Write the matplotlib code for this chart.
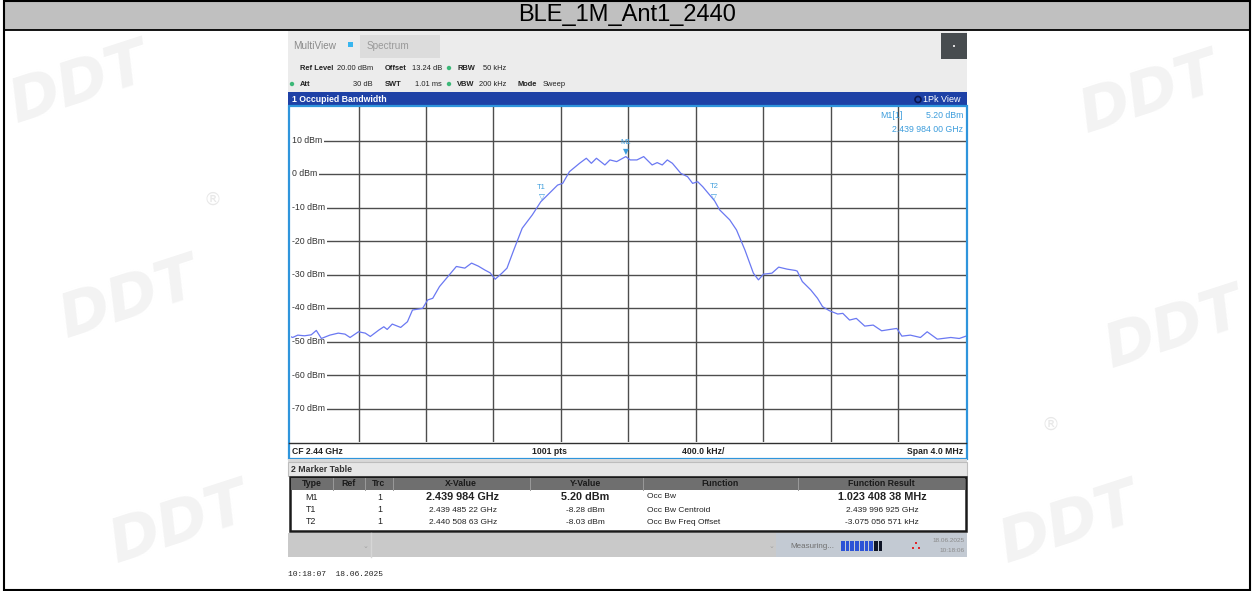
import numpy as np
import matplotlib
matplotlib.use('Agg')
import matplotlib.pyplot as plt
from matplotlib.patches import Rectangle, Circle
from matplotlib import font_manager

# trace: offset from CF (MHz) and level (dBm)
freq_offset_mhz = [-2.00, -1.99, -1.96, -1.92, -1.88, -1.85, -1.82, -1.77, -1.72, -1.68,
                   -1.65, -1.60, -1.56, -1.53, -1.48, -1.45, -1.43, -1.40, -1.35, -1.31,
                   -1.28, -1.22, -1.19, -1.16, -1.12, -1.07, -1.02, -0.97, -0.93, -0.89,
                   -0.85, -0.82, -0.79, -0.75, -0.72, -0.68, -0.63, -0.57, -0.52, -0.48,
                   -0.42, -0.39, -0.35, -0.29, -0.25, -0.22, -0.19, -0.14, -0.11, -0.07,
                   -0.016, 0.01, 0.05, 0.09, 0.14, 0.17, 0.20, 0.23, 0.26, 0.31,
                   0.35, 0.38, 0.41, 0.44, 0.51, 0.54, 0.60, 0.64, 0.69, 0.74,
                   0.77, 0.80, 0.85, 0.89, 0.94, 0.99, 1.00, 1.03, 1.08, 1.12,
                   1.15, 1.19, 1.24, 1.27, 1.31, 1.35, 1.40, 1.45, 1.50, 1.55,
                   1.59, 1.62, 1.67, 1.73, 1.77, 1.83, 1.91, 1.96, 2.00]
level_dbm = [-48.6, -48.8, -48.1, -48.3, -48.0, -46.7, -49.1, -48.1, -47.5, -47.8,
             -48.8, -47.1, -47.5, -48.5, -46.6, -45.6, -46.4, -44.8, -45.8, -44.1,
             -40.6, -40.1, -37.6, -37.1, -33.6, -30.6, -27.6, -28.1, -26.6, -27.5,
             -28.7, -29.5, -31.4, -29.6, -28.1, -22.7, -16.2, -12.2, -8.3, -6.3,
             -3.3, -2.8, 0.7, 3.2, 4.7, 3.2, 4.7, 2.7, 4.2, 3.7,
             5.2, 4.2, 4.2, 5.2, 2.7, 3.4, 2.7, 4.2, 3.2, 0.2,
             -0.8, -2.8, -2.3, -3.8, -8.0, -10.7, -13.7, -16.7, -22.7, -29.6,
             -31.6, -29.9, -29.6, -27.8, -28.4, -28.8, -29.0, -32.1, -34.6, -37.1,
             -39.6, -40.8, -41.8, -41.6, -43.6, -43.1, -45.4, -45.1, -46.8, -46.4,
             -46.1, -48.4, -48.1, -48.8, -47.1, -49.3, -48.8, -49.1, -48.4]

center_ghz = 2.44
span_mhz = 4.0
ref_level = 20
level_ticks = [10, 0, -10, -20, -30, -40, -50, -60, -70]

marker_names = ['M1', 'T1', 'T2']
marker_freq_ghz = [2.439984, 2.43948522, 2.44050863]
marker_level = [5.20, -8.28, -8.03]
marker_x_text = ['2.439 984 GHz', '2.439 485 22 GHz', '2.440 508 63 GHz']
marker_y_text = ['5.20 dBm', '-8.28 dBm', '-8.03 dBm']
function_names = ['Occ Bw', 'Occ Bw Centroid', 'Occ Bw Freq Offset']
function_results = ['1.023 408 38 MHz', '2.439 996 925 GHz', '-3.075 056 571 kHz']

_names = {f.name for f in font_manager.fontManager.ttflist}
UI = 'Liberation Sans Narrow' if 'Liberation Sans Narrow' in _names else 'Liberation Sans'

W, H = 1253, 591
fig = plt.figure(figsize=(W / 100, H / 100), dpi=100)
bg = fig.add_axes([0, 0, 1, 1])
bg.set_xlim(0, W)
bg.set_ylim(H, 0)
bg.axis('off')


def box(x0, y0, x1, y1, fc, ec='none', lw=0, z=1):
    bg.add_patch(Rectangle((x0, y0), x1 - x0, y1 - y0, fc=fc, ec=ec, lw=lw, zorder=z))


def txt(x, y, s, size=6, color='#222222', weight='normal', ha='left', family=UI, z=6):
    bg.text(x, y, s, fontsize=size, color=color, fontweight=weight, ha=ha, va='center',
            family=family, zorder=z)


# faint watermarks beside the screenshot
for (x, y) in [(80, 85), (130, 300), (180, 525), (1150, 95), (1175, 330), (1070, 525)]:
    bg.text(x, y, 'DDT', fontsize=44, color='#f3f3f3', fontweight='bold', style='italic',
            ha='center', va='center', rotation=18, zorder=0, family='DejaVu Sans')
for (x, y) in [(213, 200), (1050, 425)]:
    bg.text(x, y, '\u00ae', fontsize=13, color='#e8e8e8', ha='center', va='center', zorder=0)

# title bar and frame
box(4, 0, 1250, 30, '#c0c0c0', z=2)
bg.text(627, 15, 'BLE_1M_Ant1_2440', fontsize=17, ha='center', va='center',
        family='Liberation Sans', color='black', zorder=6)
bg.plot([4, 1250], [30, 30], color='black', lw=1.3, zorder=9)
box(4, 0.6, 1250, 589.6, 'none', ec='black', lw=1.5, z=9)

# screenshot background
box(288, 31, 967, 589, 'white', z=1.5)

# top strip
box(288, 31, 967, 92, '#ececec', z=2)
txt(293, 46, 'MultiView', size=7.2, color='#8a8a8a')
box(348, 42, 353, 47, '#39b6ef', z=3)
box(360, 35, 440, 58, '#dcdcdc', z=3)
txt(367, 46, 'Spectrum', size=7.2, color='#9a9a9a')
box(941, 33, 967, 59, '#474c4f', z=3)
box(953, 45, 955, 47, '#dddddd', z=4)

row1 = [(300, 'Ref Level', 'bold'), (337, '20.00 dBm', 'normal'), (385, 'Offset', 'bold'),
        (412, '13.24 dB', 'normal'), (457, 'RBW', 'bold'), (483, '50 kHz', 'normal')]
row2 = [(300, 'Att', 'bold'), (353, '30 dB', 'normal'), (385, 'SWT', 'bold'),
        (415, '1.01 ms', 'normal'), (457, 'VBW', 'bold'), (479, '200 kHz', 'normal'),
        (518, 'Mode', 'bold'), (543, 'Sweep', 'normal')]
for x, s, w in row1:
    txt(x, 68, s, size=5.4, weight=w)
for x, s, w in row2:
    txt(x, 84, s, size=5.4, weight=w)
for (x, y) in [(449, 68), (292, 84), (449, 84)]:
    bg.add_patch(Circle((x, y), 2.2, fc='#3cb878', ec='none', zorder=4))

# window 1 : occupied bandwidth
box(288, 92, 967, 106, '#1e41a6', z=2)
txt(292, 99.5, '1 Occupied Bandwidth', size=6.3, color='white', weight='bold')
bg.add_patch(Circle((918, 99.5), 3.0, fc='none', ec='#0a1650', lw=1.2, zorder=4))
txt(923, 99.5, '1Pk View', size=6.5, color='white')
box(289, 106, 966.5, 459, 'white', ec='#2f95dc', lw=1.6, z=2)
bg.plot([289, 966], [443, 443], color='#303030', lw=1.0, zorder=3)
txt(292, 451.5, 'CF 2.44 GHz', size=6.2, weight='bold')
txt(532, 451.5, '1001 pts', size=6.2, weight='bold')
txt(682, 451.5, '400.0 kHz/', size=6.2, weight='bold')
txt(963, 451.5, 'Span 4.0 MHz', size=6.2, weight='bold', ha='right')
box(288, 459, 967, 462, '#d8d8d8', z=2)

ax = fig.add_axes([291 / W, 1 - 442 / H, 675 / W, 335 / H])
ax.set_facecolor('none')
ax.set_xlim(-span_mhz / 2, span_mhz / 2)
ax.set_ylim(ref_level - 100, ref_level)
for s in ax.spines.values():
    s.set_visible(False)
ax.set_xticks([])
ax.set_yticks([])
for xv in np.arange(-1.6, 1.61, 0.4):
    ax.axvline(xv, color='#4d4d4d', lw=1.0, zorder=1)
for yv in range(ref_level - 10, ref_level - 100, -10):
    ax.axhline(yv, color='#4d4d4d', lw=1.0, zorder=1)
for lv in level_ticks:
    ax.text(-1.992, lv, f'{lv} dBm', fontsize=6.3, family=UI, color='#333333', ha='left',
            va='center', zorder=2, bbox=dict(fc='white', ec='none', pad=1.0))
ax.plot(freq_offset_mhz, level_dbm, color='#6a78f2', lw=0.9, zorder=3)

mk_col = '#3d9ddc'
for name, f, lv in zip(marker_names, marker_freq_ghz, marker_level):
    xm = (f - center_ghz) * 1000
    sym = '\u25bc' if name == 'M1' else '\u25bd'
    ax.annotate(sym, (xm, lv), xytext=(0, 0.5), textcoords='offset points', ha='center',
                va='bottom', fontsize=5.5, color=mk_col, family='DejaVu Sans', zorder=5)
    ax.annotate(name, (xm, lv), xytext=(0, 7.5), textcoords='offset points', ha='center',
                va='bottom', fontsize=5.5, color=mk_col, family=UI, zorder=5)

pix = bg.transData
ax.text(880, 116, 'M1[1]', fontsize=6.3, color=mk_col, family=UI, va='center', transform=pix)
ax.text(963, 116, marker_y_text[0], fontsize=6.3, color=mk_col, family=UI, va='center',
        ha='right', transform=pix)
ax.text(963, 130, '2.439 984 00 GHz', fontsize=6.3, color=mk_col, family=UI, va='center',
        ha='right', transform=pix)

# window 2 : marker table
box(288, 462, 967, 476, '#e6e6e6', ec='#bdbdbd', lw=0.8, z=2)
txt(291, 470, '2 Marker Table', size=6.3, weight='bold', color='#333333')
box(289.5, 476.5, 966, 531, 'white', ec='#1a1a1a', lw=1.8, z=2)
box(290.5, 477.5, 965, 490, '#6f6f6f', z=3)
for xs in [333, 365, 393, 530, 643, 798]:
    bg.plot([xs, xs], [478, 490], color='#9a9a9a', lw=0.7, zorder=4)
headers = [(312, 'Type'), (349, 'Ref'), (379, 'Trc'), (461, 'X-Value'), (586, 'Y-Value'),
           (720, 'Function'), (881, 'Function Result')]
for x, s in headers:
    txt(x, 484, s, size=6.3, weight='bold', color='#1a1a1a', ha='center')

row_y = [497, 510, 522]
for i, name in enumerate(marker_names):
    y = row_y[i]
    big = (i == 0)
    sz = 7.8 if big else 6.0
    wt = 'bold' if big else 'normal'
    txt(311, y, name, size=6.4, ha='center')
    txt(380, y, '1', size=6.4, ha='center')
    txt(463, y, marker_x_text[i], size=sz, weight=wt, ha='center')
    txt(585, y, marker_y_text[i], size=sz, weight=wt, ha='center')
    txt(647, y, function_names[i], size=6.0)
    txt(882, y, function_results[i], size=sz, weight=wt, ha='center')

# status bar
box(288, 533, 967, 557, '#c9c9c9', z=2)
box(776, 533, 967, 557, '#c3cad3', z=3)
bg.plot([371, 371], [533, 557], color='#d6d6d6', lw=1.0, zorder=4)
txt(365, 546, '\u2304', size=5, color='#a0a0a0', ha='center', family='DejaVu Sans')
txt(771, 546, '\u2304', size=5, color='#a0a0a0', ha='center', family='DejaVu Sans')
txt(790, 546, 'Measuring...', size=5.8, color='#707070')
for k in range(9):
    x0 = 841 + k * 4.7
    box(x0, 541, x0 + 3.7, 551, '#2b52d6' if k < 7 else '#0f1526', z=4)
for (dx, dy) in [(0, -3), (-3, 2), (3, 2)]:
    box(916 + dx - 1.4, 546 + dy - 1.4, 916 + dx + 1.4, 546 + dy + 1.4, '#e0262b', z=4)
txt(965, 540, '18.06.2025', size=4.6, color='#8a8a8a', ha='right')
txt(965, 550, '10:18:06', size=4.6, color='#8a8a8a', ha='right')

txt(288, 574, '10:18:07  18.06.2025', size=5.8, family='Liberation Mono', color='#222222')

fig.savefig('out.png', dpi=100)
